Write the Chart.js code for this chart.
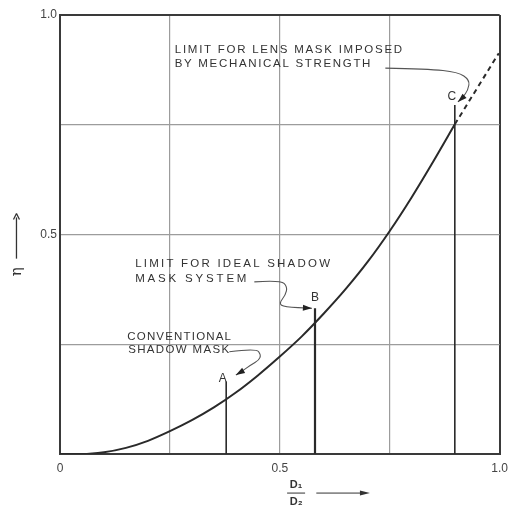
<!DOCTYPE html>
<html>
<head>
<meta charset="utf-8">
<script src="https://cdn.jsdelivr.net/npm/chart.js@4/dist/chart.umd.min.js"></script>
<style>
  html, body { margin: 0; padding: 0; background: #fff; }
  #wrap { width: 515px; height: 508px; }
</style>
</head>
<body>
<div id="wrap"><canvas id="c" width="515" height="508"></canvas></div>
<script>
// ---- data ----
const curveX   = [0, 0.05, 0.1, 0.15, 0.2, 0.25, 0.3, 0.35, 0.4, 0.45, 0.5, 0.55, 0.6, 0.65, 0.7, 0.75, 0.8, 0.85, 0.898];
const curveEta = [0, 0.000, 0.004, 0.014, 0.030, 0.052, 0.077, 0.106, 0.140, 0.179, 0.222, 0.268, 0.320, 0.376, 0.438, 0.508, 0.585, 0.668, 0.751];
const dashX    = [0.898, 0.998];
const dashEta  = [0.751, 0.913];
const markerNames = ['A', 'B', 'C'];
const markerX     = [0.378, 0.58, 0.898];
const markerTop   = [0.165, 0.332, 0.795];
const tickValues  = [0, 0.25, 0.5, 0.75, 1.0];
const xTickLabels = ['0', '', '0.5', '', '1.0'];
const yTickLabels = ['', '', '0.5', '', '1.0'];
const noteLines = [
  'LIMIT FOR LENS MASK IMPOSED', 'BY MECHANICAL STRENGTH',
  'LIMIT FOR IDEAL SHADOW', 'MASK SYSTEM',
  'CONVENTIONAL', 'SHADOW MASK'
];

// ---- annotation placement (data units) ----
const notePlace = [
  {x1: 0.261, x2: 0.778, y: 0.920},
  {x1: 0.261, x2: 0.706, y: 0.888},
  {x1: 0.171, x2: 0.614, y: 0.433},
  {x1: 0.171, x2: 0.424, y: 0.400},
  {x1: 0.153, x2: 0.389, y: 0.266},
  {x1: 0.155, x2: 0.385, y: 0.237}
];
const markerLabelPos = [{x: 0.370, y: 0.172}, {x: 0.580, y: 0.355}, {x: 0.891, y: 0.813}];
const leaders = [
  // A
  [[0.385,0.233],[0.446,0.241],[0.457,0.226],[0.453,0.214],[0.434,0.203],[0.412,0.187],[0.400,0.180]],
  // B
  [[0.442,0.392],[0.502,0.396],[0.517,0.381],[0.513,0.362],[0.498,0.343],[0.510,0.335],[0.573,0.332]],
  // C
  [[0.740,0.879],[0.837,0.877],[0.905,0.870],[0.932,0.852],[0.928,0.829],[0.916,0.812],[0.905,0.802]]
];

const INK = '#2a2a2a';
const GRID = '#9c9c9c';
const NOTE_FONT = '11.5px "Liberation Sans", Arial, sans-serif';

const datasets = [
  {
    data: curveX.map((x, i) => ({x, y: curveEta[i]})),
    borderColor: INK, borderWidth: 2, pointRadius: 0,
    cubicInterpolationMode: 'monotone', fill: false
  },
  {
    data: dashX.map((x, i) => ({x, y: dashEta[i]})),
    borderColor: INK, borderWidth: 2, borderDash: [5, 4], pointRadius: 0, fill: false
  }
];
markerX.forEach((x, i) => {
  datasets.push({
    data: [{x, y: 0}, {x, y: markerTop[i]}],
    borderColor: INK, borderWidth: i === 1 ? 2.2 : 1.6, pointRadius: 0, fill: false
  });
});

function arrowHead(ctx, fx, fy, tx, ty, len, half) {
  const a = Math.atan2(ty - fy, tx - fx);
  ctx.beginPath();
  ctx.moveTo(tx, ty);
  ctx.lineTo(tx - len * Math.cos(a) + half * Math.sin(a), ty - len * Math.sin(a) - half * Math.cos(a));
  ctx.lineTo(tx - len * Math.cos(a) - half * Math.sin(a), ty - len * Math.sin(a) + half * Math.cos(a));
  ctx.closePath();
  ctx.fill();
}

const notesPlugin = {
  id: 'notes',
  afterDatasetsDraw(chart) {
    const ctx = chart.ctx;
    const xs = chart.scales.x, ys = chart.scales.y;
    const P = (x, y) => [xs.getPixelForValue(x), ys.getPixelForValue(y)];
    ctx.save();
    ctx.fillStyle = '#333';
    ctx.strokeStyle = '#333';
    // annotation text, spread to the measured width
    ctx.font = NOTE_FONT;
    ctx.textBaseline = 'middle';
    ctx.textAlign = 'left';
    noteLines.forEach((t, i) => {
      const p = notePlace[i];
      const [l, y] = P(p.x1, p.y);
      const r = xs.getPixelForValue(p.x2);
      ctx.letterSpacing = '0px';
      const w = ctx.measureText(t).width;
      const sp = Math.max(0, (r - l - w) / (t.length - 1));
      ctx.letterSpacing = sp.toFixed(2) + 'px';
      ctx.fillText(t, l, y);
    });
    ctx.letterSpacing = '0px';
    // marker letters
    ctx.font = '12px "Liberation Sans", Arial, sans-serif';
    ctx.textAlign = 'center';
    markerNames.forEach((n, i) => {
      const [x, y] = P(markerLabelPos[i].x, markerLabelPos[i].y);
      ctx.fillText(n, x, y);
    });
    // leader lines
    ctx.lineWidth = 1.1;
    ctx.strokeStyle = '#555';
    ctx.fillStyle = '#222';
    leaders.forEach(pts => {
      const px = pts.map(p => P(p[0], p[1]));
      ctx.beginPath();
      ctx.moveTo(px[0][0], px[0][1]);
      for (let i = 1; i < px.length - 1; i++) {
        const mx = (px[i][0] + px[i + 1][0]) / 2, my = (px[i][1] + px[i + 1][1]) / 2;
        ctx.quadraticCurveTo(px[i][0], px[i][1], mx, my);
      }
      const last = px[px.length - 1], prev = px[px.length - 2];
      ctx.lineTo(last[0], last[1]);
      ctx.stroke();
      arrowHead(ctx, prev[0], prev[1], last[0], last[1], 9, 3);
    });
    // y axis title: rotated eta with upward arrow
    ctx.fillStyle = '#333';
    ctx.strokeStyle = '#333';
    const [ex, ey] = P(-0.098, 0.415);
    ctx.save();
    ctx.translate(ex, ey);
    ctx.rotate(-Math.PI / 2);
    ctx.font = '15px "DejaVu Serif", serif';
    ctx.textAlign = 'center';
    ctx.textBaseline = 'middle';
    ctx.fillText('η', 0, 0);
    ctx.restore();
    const [ax0, ay0] = P(-0.099, 0.445);
    const [ax1, ay1] = P(-0.099, 0.548);
    ctx.lineWidth = 1.3;
    ctx.beginPath(); ctx.moveTo(ax0, ay0); ctx.lineTo(ax1, ay1 + 4); ctx.stroke();
    ctx.beginPath();
    ctx.moveTo(ax1, ay1); ctx.lineTo(ax1 - 3, ay1 + 6); ctx.moveTo(ax1, ay1); ctx.lineTo(ax1 + 3, ay1 + 6);
    ctx.stroke();
    // x axis title: fraction D1 / D2 with arrow
    ctx.font = 'bold 11px "Liberation Sans", Arial, sans-serif';
    ctx.textAlign = 'center';
    ctx.textBaseline = 'middle';
    const [fx, fyNum] = P(0.537, -0.071);
    const fyDen = ys.getPixelForValue(-0.110);
    const fyBar = ys.getPixelForValue(-0.089);
    ctx.fillText('D₁', fx, fyNum);
    ctx.fillText('D₂', fx, fyDen);
    ctx.lineWidth = 1;
    ctx.beginPath(); ctx.moveTo(fx - 9, fyBar); ctx.lineTo(fx + 9, fyBar); ctx.stroke();
    const [r0] = P(0.583, 0);
    const [r1] = P(0.705, 0);
    ctx.beginPath(); ctx.moveTo(r0, fyBar); ctx.lineTo(r1 - 6, fyBar); ctx.stroke();
    arrowHead(ctx, r0, fyBar, r1, fyBar, 10, 2.5);
    ctx.restore();
  }
};

const edgeColor = (c) => (c.tick && (c.tick.value === 0 || c.tick.value === 1)) ? '#3a3a3a' : GRID;
const edgeWidth = (c) => (c.tick && (c.tick.value === 0 || c.tick.value === 1)) ? 2 : 1.2;

new Chart(document.getElementById('c'), {
  type: 'line',
  data: { datasets },
  options: {
    responsive: false,
    animation: false,
    layout: { padding: { top: 15, right: 13, left: 0, bottom: 0 } },
    plugins: { legend: { display: false }, tooltip: { enabled: false } },
    scales: {
      x: {
        type: 'linear', min: 0, max: 1,
        afterBuildTicks: s => { s.ticks = tickValues.map(v => ({value: v})); },
        afterFit: s => { s.height = 54; },
        ticks: {
          padding: 7, color: '#444', maxRotation: 0, autoSkip: false,
          font: { family: '"Liberation Sans", Arial, sans-serif', size: 12 },
          callback: (v) => { const i = tickValues.indexOf(v); return i >= 0 ? xTickLabels[i] : ''; }
        },
        grid: { color: edgeColor, lineWidth: edgeWidth, drawTicks: false },
        border: { display: true, color: '#3a3a3a', width: 2 }
      },
      y: {
        type: 'linear', min: 0, max: 1,
        afterBuildTicks: s => { s.ticks = tickValues.map(v => ({value: v})); },
        afterFit: s => { s.width = 60; },
        ticks: {
          padding: 3, color: '#444', autoSkip: false,
          font: { family: '"Liberation Sans", Arial, sans-serif', size: 12 },
          callback: (v) => { const i = tickValues.indexOf(v); return i >= 0 ? yTickLabels[i] : ''; }
        },
        grid: { color: edgeColor, lineWidth: edgeWidth, drawTicks: false },
        border: { display: true, color: '#3a3a3a', width: 2 }
      }
    }
  },
  plugins: [notesPlugin]
});
</script>
</body>
</html>
